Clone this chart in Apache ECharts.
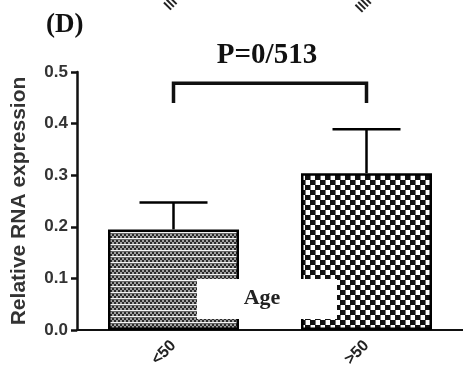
<!DOCTYPE html>
<html>
<head>
<meta charset="utf-8">
<script src="https://cdn.jsdelivr.net/npm/echarts@6/dist/echarts.min.js"></script>
<style>
  html, body { margin: 0; padding: 0; background: #fff; }
  #chart { width: 463px; height: 379px; }
</style>
</head>
<body>
<div id="chart"></div>
<script>
// Age groups and relative RNA expression (mean and upper error)
const categories = ['<50', '>50'];
const means = [0.195, 0.304];
const upperErrors = [0.247, 0.389];
// Significance bracket: top level and leg ends (in axis units)
const bracketTop = 0.478;
const bracketLegEnd = 0.44;
const pLabel = 'P=0/513';
const panelLabel = '(D)';
const groupLabel = 'Age';
const yTicks = [0, 0.1, 0.2, 0.3, 0.4, 0.5];

function makePattern(w, h, painter) {
  const c = document.createElement('canvas');
  c.width = w; c.height = h;
  const ctx = c.getContext('2d');
  painter(ctx);
  return { image: c, repeat: 'repeat' };
}

// fine dotted fill with light horizontal stripes
const fineFill = makePattern(4, 6, ctx => {
  ctx.fillStyle = '#a0a0a0'; ctx.fillRect(0, 0, 4, 6);
  ctx.fillStyle = '#2a2a2a';
  ctx.fillRect(0, 0, 2, 2);
  ctx.fillRect(2, 2, 2, 2);
  ctx.fillStyle = '#f4f4f4'; ctx.fillRect(0, 4, 4, 1);
  ctx.fillStyle = '#666'; ctx.fillRect(0, 5, 4, 1);
});

// coarse checkerboard fill
const checkerFill = makePattern(10, 10, ctx => {
  ctx.fillStyle = '#ffffff'; ctx.fillRect(0, 0, 10, 10);
  ctx.fillStyle = '#111111';
  ctx.fillRect(0, 0, 5, 5);
  ctx.fillRect(5, 5, 5, 5);
  ctx.fillStyle = '#777';
  ctx.fillRect(5, 0, 1, 5);
  ctx.fillRect(0, 5, 1, 5);
});

const fills = [fineFill, checkerFill];

const chart = echarts.init(document.getElementById('chart'), null, { renderer: 'canvas' });

const option = {
  animation: false,
  backgroundColor: '#ffffff',
  title: {
    text: pLabel,
    left: 262,
    top: 36,
    textAlign: 'center',
    textStyle: {
      fontFamily: 'Liberation Serif', fontWeight: 'bold', fontSize: 29, color: '#111'
    }
  },
  grid: { left: 77, right: -2, top: 72, bottom: 49 },
  xAxis: {
    type: 'category',
    data: categories,
    axisLine: { lineStyle: { color: '#111', width: 2 } },
    axisTick: { alignWithLabel: true, length: 7, lineStyle: { color: '#111', width: 2 } },
    axisLabel: {
      rotate: 45, margin: 13,
      fontFamily: 'Liberation Sans', fontWeight: 'bold', fontSize: 16, color: '#222'
    }
  },
  yAxis: {
    type: 'value',
    min: 0, max: 0.5, interval: 0.1,
    name: 'Relative RNA expression',
    nameLocation: 'middle',
    nameGap: 47,
    nameTextStyle: {
      fontFamily: 'Liberation Sans', fontWeight: 'bold', fontSize: 21, color: '#333'
    },
    splitLine: { show: false },
    axisLine: { show: true, lineStyle: { color: '#111', width: 2.5 } },
    axisTick: { show: true, length: 6, lineStyle: { color: '#111', width: 2.5 } },
    axisLabel: {
      margin: 9,
      fontFamily: 'Liberation Sans', fontWeight: 'bold', fontSize: 17, color: '#333',
      formatter: v => yTicks.includes(Math.round(v * 10) / 10) ? v.toFixed(1) : ''
    }
  },
  series: [
    {
      type: 'bar',
      barWidth: 131,
      data: means.map((v, i) => ({
        value: v,
        itemStyle: { color: fills[i], borderColor: '#000', borderWidth: 2.5 }
      })),
      z: 2
    },
    {
      // error bars: stem from bar top to a cap
      type: 'custom',
      z: 3,
      data: means.map((m, i) => [i, m, upperErrors[i]]),
      renderItem: (params, api) => {
        const lo = api.coord([api.value(0), api.value(1)]);
        const hi = api.coord([api.value(0), api.value(2)]);
        const half = 34;
        const style = { stroke: '#000', lineWidth: 2.5 };
        return {
          type: 'group',
          children: [
            { type: 'line', shape: { x1: lo[0], y1: lo[1], x2: hi[0], y2: hi[1] }, style },
            { type: 'line', shape: { x1: hi[0] - half, y1: hi[1], x2: hi[0] + half, y2: hi[1] }, style }
          ]
        };
      }
    },
    {
      // significance bracket between the two groups
      type: 'custom',
      z: 3,
      data: [[0, 1, bracketTop, bracketLegEnd]],
      renderItem: (params, api) => {
        const a = api.coord([api.value(0), api.value(2)]);
        const b = api.coord([api.value(1), api.value(2)]);
        const aEnd = api.coord([api.value(0), api.value(3)]);
        const bEnd = api.coord([api.value(1), api.value(3)]);
        return {
          type: 'polyline',
          shape: { points: [aEnd, a, b, bEnd] },
          style: { stroke: '#111', lineWidth: 3.5, fill: null }
        };
      }
    }
  ],
  graphic: [
    {
      type: 'text', left: 46, top: 12, z: 100,
      style: { text: panelLabel, font: 'bold 27px "Liberation Serif"', fill: '#111' }
    },
    {
      type: 'rect', z: 100,
      shape: { x: 197, y: 279, width: 140, height: 40 },
      style: { fill: '#ffffff' }
    },
    {
      type: 'text', z: 101, x: 262, y: 298,
      style: {
        text: groupLabel, font: 'bold 22px "Liberation Serif"', fill: '#222',
        align: 'center', verticalAlign: 'middle'
      }
    },
    {
      // tails of the rotated labels of the panel above
      type: 'text', z: 101, x: 176, y: 9, rotation: Math.PI / 4,
      style: { text: 'lll', font: 'bold 14px "Liberation Sans"', fill: '#222', align: 'center', verticalAlign: 'bottom' }
    },
    {
      type: 'text', z: 101, x: 369, y: 10, rotation: Math.PI / 4,
      style: { text: 'llll', font: 'bold 14px "Liberation Sans"', fill: '#222', align: 'center', verticalAlign: 'bottom' }
    }
  ]
};

chart.setOption(option);
</script>
</body>
</html>
